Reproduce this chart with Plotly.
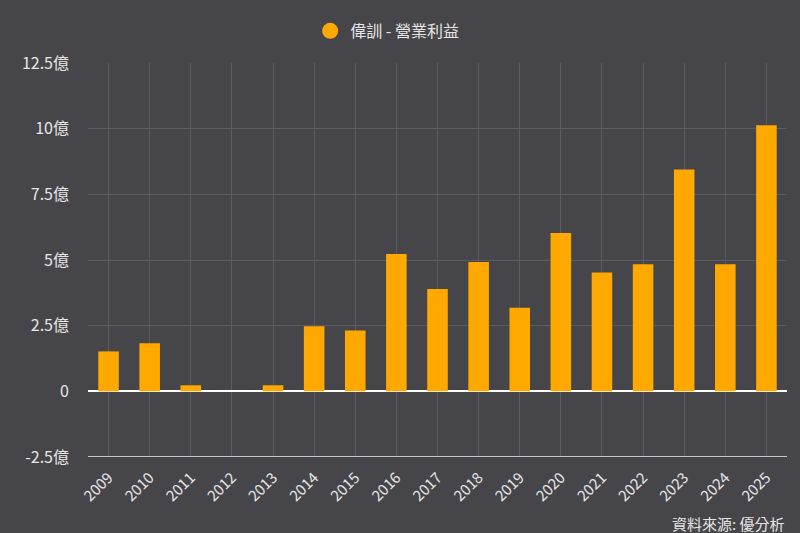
import plotly.graph_objects as go

# Data (unit: 億)
years = [str(y) for y in range(2009, 2026)]
operating_income = [1.52, 1.83, 0.23, 0.0, 0.23, 2.48, 2.32, 5.23, 3.9, 4.92,
                    3.18, 6.03, 4.52, 4.84, 8.45, 4.84, 10.13]
y_tickvals = [-2.5, 0, 2.5, 5, 7.5, 10, 12.5]
y_ticktext = ['-2.5億', '0', '2.5億', '5億', '7.5億', '10億', '12.5億']
series_name = '偉訓 - 營業利益'
source_note = '資料來源: 優分析'

BG = '#46454a'
BAR = '#ffa800'
TEXT = '#e6e6e6'
GRID = '#5c5b61'
FONT = 'Noto Sans CJK TC'

fig = go.Figure()

fig.add_trace(go.Bar(
    x=years, y=operating_income,
    marker=dict(color=BAR, line=dict(width=0)),
    width=0.5,
    showlegend=False,
))

# Legend entry with a round marker
fig.add_trace(go.Scatter(
    x=[None], y=[None], mode='markers', name=series_name,
    marker=dict(color=BAR, size=16, symbol='circle'),
))

fig.update_layout(
    width=800, height=533,
    paper_bgcolor=BG, plot_bgcolor=BG,
    font=dict(family=FONT, color=TEXT, size=15),
    margin=dict(l=88, r=13, t=63, b=76, autoexpand=False),
    showlegend=True,
    legend=dict(orientation='h', x=0.484, xanchor='center', xref='container',
                y=0.942, yanchor='middle', yref='container',
                font=dict(size=16, color=TEXT), bgcolor='rgba(0,0,0,0)'),
    xaxis=dict(
        type='category', tickangle=-45, tickfont=dict(size=15, color=TEXT),
        showgrid=True, gridcolor=GRID, gridwidth=1,
        showline=False, ticks='', range=[-0.5, 16.5], ticklabelstandoff=8,
    ),
    yaxis=dict(
        range=[-2.5, 12.5], tickvals=y_tickvals, ticktext=y_ticktext,
        tickfont=dict(size=16, color=TEXT),
        showgrid=True, gridcolor=GRID, gridwidth=1,
        zeroline=True, zerolinecolor='#ffffff', zerolinewidth=2,
        ticks='', ticklabelstandoff=18,
    ),
)

# light line at the bottom of the plot area
fig.add_shape(type='line', xref='paper', yref='y', x0=0, x1=1, y0=-2.5, y1=-2.5,
              line=dict(color='#c8c8d0', width=2))

fig.add_annotation(text=source_note, xref='paper', yref='paper', x=1.0, y=-0.168,
                   xanchor='right', yanchor='middle', showarrow=False,
                   font=dict(size=15, color=TEXT))

fig.write_html("out.html", config={'displayModeBar': False},
               post_script="document.body.style.margin='0';document.body.style.background='%s';" % BG)
